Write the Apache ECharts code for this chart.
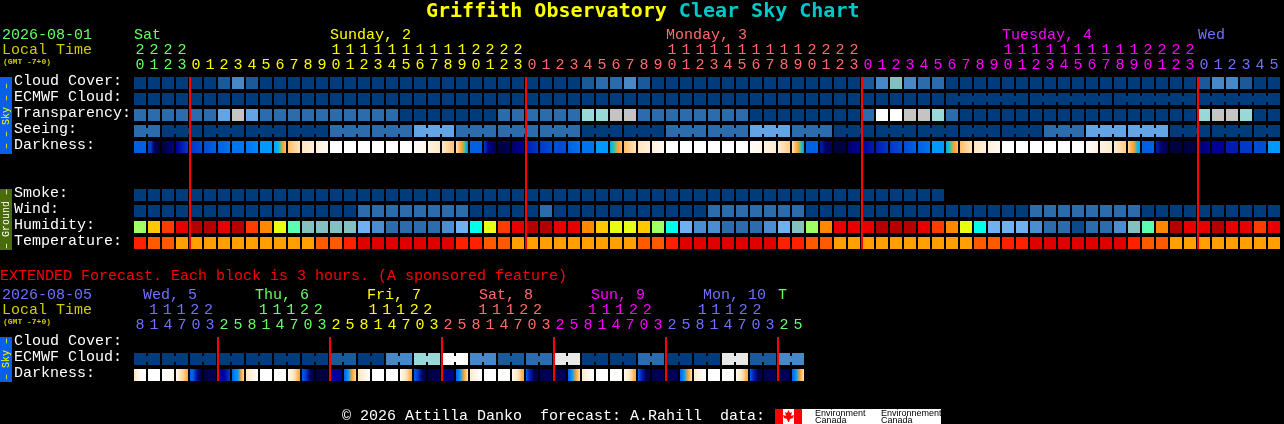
<!DOCTYPE html>
<html><head><meta charset="utf-8">
<style>html,body{margin:0;padding:0;background:#000}#c{width:1284px;height:424px}</style>
<script src="https://cdn.jsdelivr.net/npm/echarts@6/dist/echarts.min.js"></script>
</head><body><div id="c"></div>
<script>
// ---------- tick labels ----------
const hourLabels = ('0123'+'0123456789'+'0123456789'+'0123'+'0123456789'+'0123456789'+'0123'+'0123456789'+'0123456789'+'0123'+'012345').split('');
const tensLabels = ('2222'+'          '+'1111111111'+'2222'+'          '+'1111111111'+'2222'+'          '+'1111111111'+'2222'+'      ').split('');
const extHourLabels = '814703258147032581470325814703258147032581470325'.split('');
const extTensLabels = ' 11122   11122   11122   11122   11122   11122   '.split('');
const skyRows = ['Cloud Cover:','ECMWF Cloud:','Transparency:','Seeing:','Darkness:',' ','  ','Smoke:','Wind:','Humidity:','Temperature:'];
const extRows = ['Cloud Cover:','ECMWF Cloud:','Darkness:'];
const dayHeads = [[0,'Sat',0],[14,'Sunday, 2',1],[38,'Monday, 3',2],[62,'Tuesday, 4',3],[76,'Wed',4]];
const extDayHeads = [[0,' Wed, 5',4],[8,' Thu, 6',0],[16,' Fri, 7',1],[24,' Sat, 8',2],[32,' Sun, 9',3],[40,' Mon, 10',4],[46,'T',0]];
// ---------- series values (levels) ----------
const cloud = [0,0,0,0,0,0,1,3,1,0, 0,0,0,0,0,0,0,0,0,0, 0,0,0,0,0,0,0,0,0,0, 0,0,1,2,2,3,1,0,0,0, 0,0,0,0,0,0,0,0,0,0, 0,0,1,3,5,3,2,2,0,0, 0,0,0,0,0,0,0,0,0,0, 0,0,0,0,0,0,1,3,3,1, 0,0];
const ecmwf = [0,0,0,0,0,0,0,0,0,0, 0,0,0,0,0,0,0,0,0,0, 0,0,0,0,0,0,0,0,0,0, 0,0,0,0,0,0,0,0,0,0, 0,0,0,0,0,0,0,0,0,0, 0,0,0,0,0,0,0,0,0,0, 0,0,0,0,0,0,0,0,0,0, 0,0,0,0,0,0,0,0,0,0, 0,0];
const transparency = [2,2,2,2,2,2,4,7,4,2, 2,2,2,2,2,2,2,2,2,0, 0,0,0,0,0,0,2,2,2,2, 2,2,6,6,7,7,2,2,2,2, 2,2,2,2,0,0,0,0,0,0, 0,0,2,9,9,7,7,6,2,0, 0,0,0,0,0,0,0,0,0,0, 0,0,0,0,0,0,6,7,7,6, 0,0];
const seeing = [2,2,0,0,0,0,0,0,0,0, 0,0,0,0,2,2,2,2,2,2, 4,4,4,2,2,2,2,2,2,2, 2,2,0,0,0,0,0,0,2,2, 2,2,2,2,4,4,4,2,2,2, 0,0,0,0,0,0,0,0,0,0, 0,0,0,0,0,2,2,2,4,4, 4,4,4,4,0,0,0,0,0,0, 0,0];
const smoke = [0,0,0,0,0,0,0,0,0,0, 0,0,0,0,0,0,0,0,0,0, 0,0,0,0,0,0,0,0,0,0, 0,0,0,0,0,0,0,0,0,0, 0,0,0,0,0,0,0,0,0,0, 0,0,0,0,0,0,0,0];
const wind = [0,0,0,0,0,0,0,0,0,0, 0,0,0,0,0,0,2,2,2,2, 2,2,2,2,0,0,0,0,0,2, 0,0,0,0,0,0,0,0,0,0, 0,2,2,2,2,2,2,2,0,0, 0,0,0,0,0,0,0,0,0,0, 0,0,0,0,2,2,2,2,2,2, 2,2,0,0,0,0,0,0,0,0, 0,0];
const humidity = [55,65,75,80,85,85,80,85,75,70, 60,50,40,40,40,40,35,30,25,25, 25,25,30,35,45,60,75,80,85,85, 80,80,70,65,60,60,65,55,45,35, 30,30,25,25,25,30,35,40,55,70, 80,80,80,85,85,85,80,75,70,60, 45,35,35,35,30,25,25,20,25,25, 30,40,50,70,85,80,80,85,80,80, 75,80];
const temperature = [27,24,24,21,21,21,21,21,21,21, 21,21,21,24,24,27,30,30,30,30, 30,30,30,27,27,24,24,21,21,21, 21,21,21,21,21,21,24,24,27,30, 30,30,30,30,30,30,27,27,24,24, 21,21,21,21,21,21,21,21,21,21, 24,24,27,27,30,30,30,30,30,30, 30,27,24,24,21,21,21,21,21,21, 21,21];
const darkness = [
 [7,7],[8,8,10,11,11],[11,9.5],[9,8],[8,7.5],[7.5,7],[7,6.5],[6.5,6.5],[6.5,6],[5.5,5.5],
 [5,5,4,3,2.5],[2.5,1.5],[1.5,1],[1,.5],[0,0],[0,0],[0,0],[0,0],[0,0],[0,0],
 [.3,.5],[.8,1.4],[1.3,2.4],[1.5,2.5,3,4,6],[7,7],[8,9,10,10.5],[11,10.5],[10,9],[8.5,8],[8,7.5],
 [7.5,7.5],[7,6.5],[6.5,6.5],[5.5,5.5],[5,4,3,2.5],[2.5,1.5],[1.5,1],[1,.5],[0,0],[0,0],
 [0,0],[0,0],[0,0],[0,0],[.3,.5],[.8,1.2],[1.2,2.2],[1.5,2.5,3,4,5.5],[7,7],[8.5,10,10.5],
 [11,11],[10,9],[9,8.5],[8.5,8],[8,7.5],[7.5,7],[7,6.5],[5.5,5.5],[5,4,3,2.5],[2.5,1.5],
 [1.5,1],[1,.5],[0,0],[0,0],[0,0],[0,0],[0,0],[0,0],[.3,.7],[.8,1.3],
 [1.2,2.2],[2,2.7,3,4.5,5],[7,7],[8.5,10,10.8],[11,11],[11,11],[10,9],[9,9],[8.5,8.5],[8,8],
 [7.5,7.5],[5.5,5.5]];
const extEcmwfBlocks = [0,0,0,0,0,0,0,1,0,3,6,9,3,1,2,8,0,0,2,0,0,8,1,3];
const extDarkness = [
 [1.5,.3,0],[0,0],[0,.2,.8],[.3,1.5,2.2,3],[7,7,8.5,10,11],[11,10.5],[9,9,8],[7,6,5.5,3,2],
 [1.5,0],[0,0],[0,.2],[.3,1.5,3],[7,8,10,11],[11,11],[9,9],[7,5.5,3,2],
 [1.5,0],[0,0],[0,0],[.3,1.5,3],[7,8,10,11],[11,10.5],[9.5,9.5],[7,5.5,3,1.5],
 [1.2,0],[0,0],[0,.2],[.3,1.5,3],[7,8.5,10.5,11],[10.5,10.5],[10.5,10.5],[7,5.5,3,1.5],
 [1.2,0],[0,0],[0,.2],[.3,1.5,3],[7,8.5,10.5,11],[10.5,10.5],[10.5,10.5],[7,5.5,3,1.5],
 [1.2,0],[0,0],[0,.2],[.3,1.5,3],[7,8.5,10.5,11],[10.5,10.5],[10.5,10.5],[7,5.5,3,1.5]];
// ---------- joined blocks (number of cells forecast as one value) ----------
const seeingBlocks = [2,3,3,3,3,3,3,3,3,3,3,3,3,3,3,3,3,3,3,3,3,3,3,3,3,3,3,2];
const ecmwfSingles = 58, ecmwfRun = [6,6,6,6];
// ---------- styles ----------
const FONT='"Liberation Mono","DejaVu Sans Mono",monospace';
const TITLEFONT='"DejaVu Sans Mono",monospace';
const dayColors=['#66ff66','#ffff00','#ff6b6b','#ff00ff','#7070ff'];
const skyColors=['#003c7c','#1a5a9a','#2c6cac','#4888c8','#64a4e4','#84c0c0','#98d8d8','#c4c4c4','#e8e8e8','#ffffff'];
const humidityColors={20:'#0a4a8c',25:'#2c6cac',30:'#4c8cd0',35:'#70b0f0',40:'#84c0c0',45:'#00ffe8',50:'#5cffb0',55:'#a0ff64',60:'#e8ff14',65:'#ffc800',70:'#ff8800',75:'#ff3c00',80:'#e80000',85:'#b40000'};
const tempColors={21:'#ffa000',24:'#ff5a00',27:'#ff2000',30:'#e00000'};
const darkRamp=[[255,255,255],[255,240,220],[255,217,160],[255,160,48],[48,200,160],[0,168,255],[0,136,248],[0,96,224],[0,56,200],[0,0,152],[0,0,104],[0,0,64]];
function darkColor(l){const a=Math.floor(l),b=Math.min(11,a+1),t=l-a,c=[0,1,2].map(k=>Math.round(darkRamp[a][k]*(1-t)+darkRamp[b][k]*t));return `rgb(${c})`;}
function expand(blocks){const j=[];blocks.forEach(n=>{for(let k=0;k<n;k++)j.push(k<n-1);});return j;}
const seeingJoin=expand(seeingBlocks);
const ecmwfJoin=expand(new Array(ecmwfSingles).fill(1).concat(ecmwfRun));
const extEcmwf=extEcmwfBlocks.flatMap(v=>[v,v]);
const extJoin=expand(extEcmwfBlocks.map(()=>2));
const dayOf=(runs)=>runs.flatMap(([n,d])=>new Array(n).fill(d));
const hourDay=dayOf([[4,0],[24,1],[24,2],[24,3],[6,4]]);
const extHourDay=dayOf([[6,4],[8,0],[8,1],[8,2],[8,3],[8,4],[2,0]]);

function cellSeries(grid,row,values,fillFn,join){
  return {type:'custom',xAxisIndex:grid===0?0:2,yAxisIndex:grid,silent:true,z:2,
    data:values.map((v,i)=>[i,row,v]),encode:{x:0,y:1},
    renderItem(p,api){
      const i=api.value(0),c=api.coord([i,row]),s=api.size([1,1]);
      const w=s[0]-2,h=s[1]-4,x=c[0]-w/2,y=c[1]-h/2,ch=[{type:'rect',shape:{x,y,width:w,height:h},style:{fill:fillFn(i,api.value(2))}}];
      if(join&&join[i])ch.push({type:'rect',shape:{x:x+w,y:y+3,width:2,height:h-6},style:{fill:fillFn(i,api.value(2))}});
      return {type:'group',children:ch};
    }};
}
const gradient=(arr)=>(i)=>{const l=arr[i];return {type:'linear',x:0,y:0,x2:1,y2:0,colorStops:l.map((v,k)=>({offset:k/(l.length-1),color:darkColor(v)}))};};
const sky=(i,v)=>skyColors[v];
function midnightSeries(grid,labels,isMid,rows){
  const d=labels.map((_,i)=>i).filter(isMid);
  return {type:'custom',xAxisIndex:grid===0?0:2,yAxisIndex:grid,silent:true,z:5,data:d.map(i=>[i,0]),encode:{x:0,y:1},
    renderItem(p,api){
      const i=api.value(0),a=api.coord([i,0]),b=api.coord([i,rows-1]),s=api.size([1,1]);
      return {type:'rect',shape:{x:a[0]-s[0]/2,y:a[1]-s[1]/2+2,width:2,height:b[1]-a[1]+s[1]-4},style:{fill:'#ff0000'}};
    }};
}
function headSeries(grid,heads,dy){
  return {type:'custom',xAxisIndex:grid===0?0:2,yAxisIndex:grid,silent:true,z:3,data:heads.map((h,k)=>[h[0],0,k]),encode:{x:0,y:1},
    renderItem(p,api){
      const c=api.coord([api.value(0),0]),s=api.size([1,1]),h=heads[api.value(2)];
      return {type:'text',style:{text:h[1],x:c[0]-s[0]/2+1,y:c[1]+dy,fill:dayColors[h[2]],font:'15px '+FONT,textAlign:'left',textVerticalAlign:'middle',verticalAlign:'middle'}};
    }};
}
function xAx(grid,labels,days,offset,margin){
  return {type:'category',gridIndex:grid,position:'top',offset,data:labels,boundaryGap:true,
    axisLine:{show:false},axisTick:{show:false},splitLine:{show:false},
    axisLabel:{show:true,interval:0,margin,fontFamily:FONT,fontSize:15,color:(v,i)=>dayColors[days[i]]}};
}
function yAx(grid,rows){
  return {type:'category',gridIndex:grid,inverse:true,data:rows,axisLine:{show:false},axisTick:{show:false},splitLine:{show:false},
    axisLabel:{show:true,interval:0,align:'left',margin:119,formatter:(v)=>'{t|'+v+'}',
      rich:{t:{color:'#ffffff',fontFamily:FONT,fontSize:15,padding:[0,0,4,0],align:'left'}}}};
}
function sideText(t,x,y,c){return {type:'text',x,y,rotation:Math.PI/2,z:10,style:{text:t,fill:c,font:'10px '+FONT,textAlign:'center',textVerticalAlign:'middle',verticalAlign:'middle'}};}
function txt(t,x,y,c,f){return {type:'text',x,y,z:10,style:{text:t,fill:c,font:f||('15px '+FONT),textAlign:'left',textVerticalAlign:'middle',verticalAlign:'middle'}};}
function box(x,y,w,h,c){return {type:'rect',z:9,shape:{x,y,width:w,height:h},style:{fill:c}};}

const option={
  animation:false,backgroundColor:'#000000',
  title:{text:'{a|Griffith Observatory }{b|Clear Sky Chart}',left:426,top:2,padding:0,
    textStyle:{rich:{a:{color:'#ffff00',fontFamily:TITLEFONT,fontWeight:'bold',fontSize:20},b:{color:'#00c8c8',fontFamily:TITLEFONT,fontWeight:'bold',fontSize:20}}}},
  grid:[{left:133,top:75,width:1148,height:176,containLabel:false},{left:133,top:335,width:672,height:48,containLabel:false}],
  xAxis:[xAx(0,hourLabels,hourDay,0,2),xAx(0,tensLabels,hourDay,15,2),xAx(1,extHourLabels,extHourDay,0,2),xAx(1,extTensLabels,extHourDay,15,2)],
  yAxis:[yAx(0,skyRows),yAx(1,extRows)],
  series:[
    cellSeries(0,0,cloud,sky),
    cellSeries(0,1,ecmwf,sky,ecmwfJoin),
    cellSeries(0,2,transparency,sky),
    cellSeries(0,3,seeing,sky,seeingJoin),
    cellSeries(0,4,darkness,gradient(darkness)),
    cellSeries(0,7,smoke,sky),
    cellSeries(0,8,wind,sky),
    cellSeries(0,9,humidity,(i,v)=>humidityColors[v]),
    cellSeries(0,10,temperature,(i,v)=>tempColors[v]),
    midnightSeries(0,hourLabels,i=>i>0&&hourDay[i]!==hourDay[i-1],11),
    headSeries(0,dayHeads,-48),
    cellSeries(1,1,extEcmwf,sky,extJoin),
    cellSeries(1,2,extDarkness,gradient(extDarkness)),
    midnightSeries(1,extHourLabels,i=>extHourLabels[i]==='2'&&extTensLabels[i]===' ',3),
    headSeries(1,extDayHeads,-48)
  ],
  graphic:[
    txt('2026-08-01',2,35,'#66ff66'),
    txt('Local Time',2,50,'#cccc00'),
    txt('(GMT -7+0)',3,62,'#cccc00','bold 8px '+FONT),
    box(0,77,12,77,'#0860e8'),
    sideText('\u2013 \u2013 Sky \u2013 \u2013',6,116,'#ffff00'),
    box(0,189,12,61,'#4a6b0a'),
    sideText('\u2013 Ground \u2013',6,219,'#ffffff'),
    txt('EXTENDED Forecast. Each block is 3 hours. (A sponsored feature)',0,276,'#ff0000'),
    txt('2026-08-05',2,295,'#7070ff'),
    txt('Local Time',2,310,'#cccc00'),
    txt('(GMT -7+0)',3,322,'#cccc00','bold 8px '+FONT),
    box(0,337,12,45,'#0860e8'),
    sideText('\u2013 Sky \u2013',6,359,'#ffff00'),
    txt('\u00a9 2026 Attilla Danko  forecast: A.Rahill  data:',342,416,'#ffffff'),
    box(775,409,166,15,'#ffffff'),
    box(775,409,8,15,'#ff0000'),
    box(794,409,8,15,'#ff0000'),
    {type:'polygon',z:10,shape:{points:[[788.5,410],[790,413],[792,412],[791,416],[794,415],[793,418],[790,419],[789,422],[788,422],[787,419],[784,418],[783,415],[786,416],[785,412],[787,413]]},style:{fill:'#ff0000'}},
    txt('Environment',815,414,'#000000','9px "Liberation Sans"'),
    txt('Canada',815,421,'#000000','9px "Liberation Sans"'),
    txt('Environnement',881,414,'#000000','9px "Liberation Sans"'),
    txt('Canada',881,421,'#000000','9px "Liberation Sans"')
  ]
};
const chart=echarts.init(document.getElementById('c'),null,{renderer:'canvas',width:1284,height:424});
chart.setOption(option);
</script></body></html>
